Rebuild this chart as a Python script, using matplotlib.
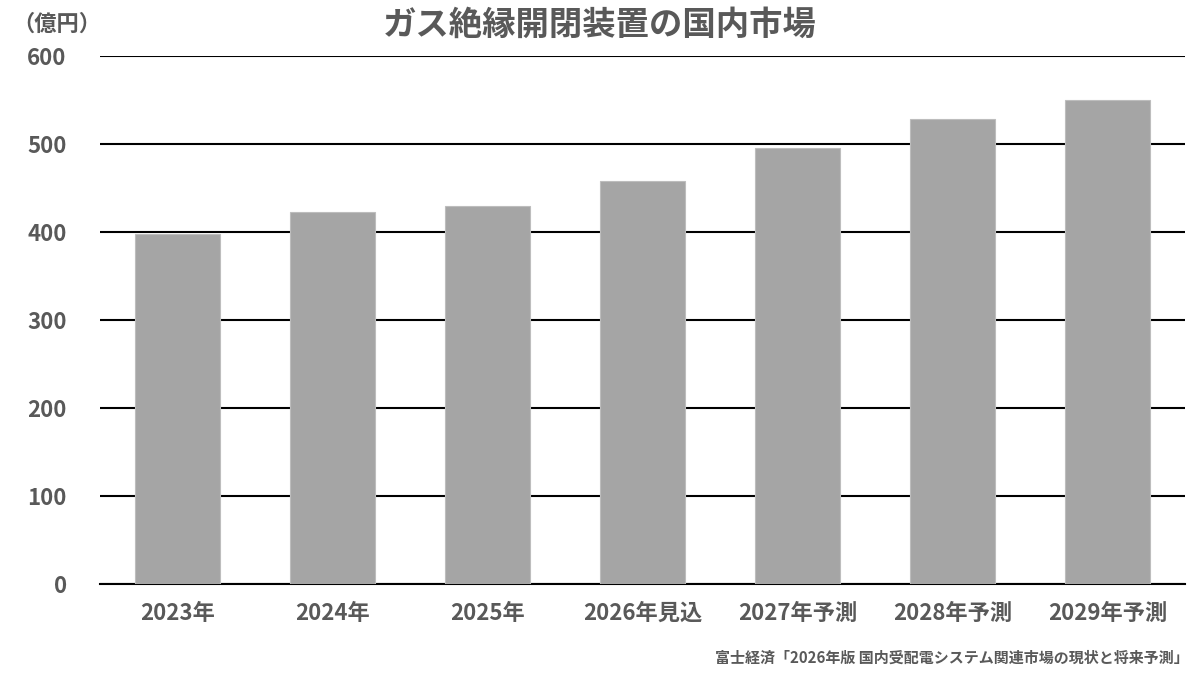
import matplotlib.pyplot as plt
import numpy as np

plt.rcParams['font.family'] = ['Noto Sans CJK JP', 'DejaVu Sans']

# data
years = ['2023年', '2024年', '2025年', '2026年見込', '2027年予測', '2028年予測', '2029年予測']
market = [398, 423, 430, 458, 495, 528, 550]
yticks = [0, 100, 200, 300, 400, 500, 600]

text_col = '#595959'

fig = plt.figure(figsize=(12, 6.75), dpi=100)
ax = fig.add_axes([100 / 1200, 1 - 584 / 675, 1085 / 1200, 528 / 675])

x = np.arange(len(years))
ax.bar(x, market, width=0.55, color='#a5a5a5', edgecolor='#bdbdbd', linewidth=0.8, zorder=3)

ax.set_ylim(0, 600)
ax.set_xlim(-0.5, len(years) - 0.5)
ax.set_yticks(yticks)
ax.set_yticklabels([str(v) for v in yticks], fontsize=16, fontweight='bold', color=text_col)
ax.set_xticks(x)
ax.set_xticklabels(years, fontsize=16, fontweight='bold', color=text_col)
ax.tick_params(axis='both', length=0)
ax.tick_params(axis='y', pad=24)
ax.tick_params(axis='x', pad=13)
ax.grid(axis='y', color='black', linewidth=1.5, zorder=0)
for s in ['top', 'right', 'left']:
    ax.spines[s].set_visible(False)
ax.spines['bottom'].set_color('black')
ax.spines['bottom'].set_linewidth(1.5)

fig.text(600 / 1200, 1 - 25 / 675, 'ガス絶縁開閉装置の国内市場', ha='center', va='center',
         fontsize=24, fontweight='bold', color=text_col)
fig.text(57 / 1200, 1 - 24 / 675, '（億円）', ha='center', va='center',
         fontsize=16, fontweight='bold', color=text_col)
fig.text(1189 / 1200, 1 - 658 / 675, '富士経済「2026年版 国内受配電システム関連市場の現状と将来予測」',
         ha='right', va='center', fontsize=10.8, fontweight='bold', color=text_col)

fig.savefig('out.png', dpi=100, facecolor='white')
